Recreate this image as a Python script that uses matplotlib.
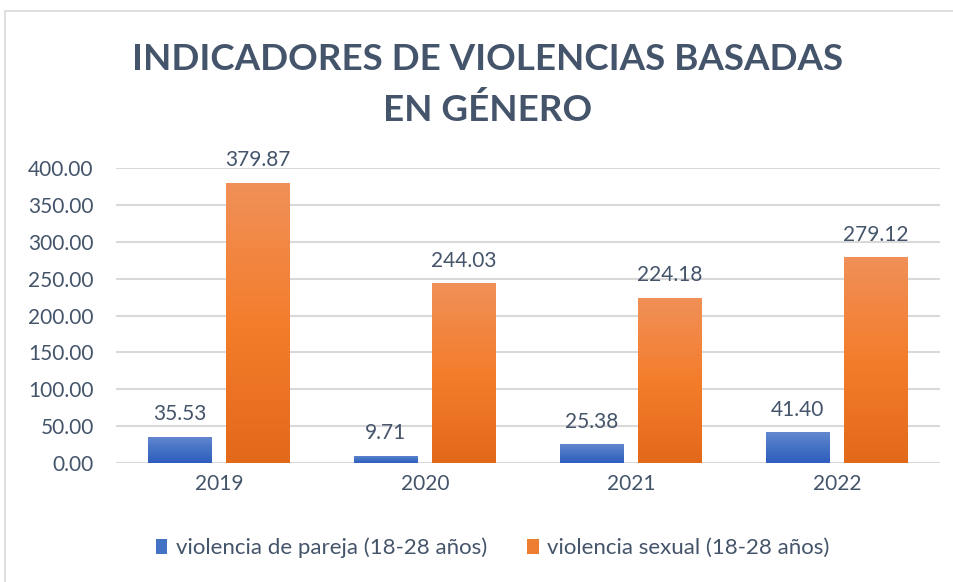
import matplotlib
matplotlib.use("Agg")
import matplotlib.pyplot as plt
import numpy as np
from matplotlib.patches import Rectangle, Patch
from matplotlib.colors import LinearSegmentedColormap

years = ["2019", "2020", "2021", "2022"]
pareja = [35.53, 9.71, 25.38, 41.40]
sexual = [379.87, 244.03, 224.18, 279.12]
series_names = ["violencia de pareja (18-28 años)", "violencia sexual (18-28 años)"]
yticks = [0, 50, 100, 150, 200, 250, 300, 350, 400]

TXT = "#44546A"
FONT = "Lato"

fig = plt.figure(figsize=(9.54, 5.82), dpi=100)
fig.patch.set_facecolor("white")
# chart border
fig.patches.append(Rectangle((5/954, -0.05), 1.2, 1 - 11/582 + 0.05, transform=fig.transFigure,
                             fill=False, edgecolor="#D9D9D9", linewidth=1.2))

ax = fig.add_axes([116/954, 1 - 463/582, (940 - 116)/954, (463 - 168)/582])

blue_cmap = LinearSegmentedColormap.from_list("b", ["#2E5EBF", "#4472C4", "#6488D0"])
orange_cmap = LinearSegmentedColormap.from_list("o", ["#E2691A", "#F47D2C", "#F09058"])

x = np.arange(len(years))
w = 0.31
off = 0.19
grad = np.linspace(0, 1, 256).reshape(-1, 1)

def gbar(xs, vals, cmap):
    bars = ax.bar(xs, vals, width=w, color="none", edgecolor="none", zorder=3)
    for b in bars:
        im = ax.imshow(grad, cmap=cmap, origin="lower", aspect="auto",
                       extent=(b.get_x(), b.get_x() + b.get_width(), 0, b.get_height()),
                       zorder=3)
        im.set_clip_path(b)
    return bars

gbar(x - off, pareja, blue_cmap)
gbar(x + off, sexual, orange_cmap)
ax.set_xlim(-0.5, 3.5)
ax.set_ylim(0, 400)

for xs, vals in ((x - off, pareja), (x + off, sexual)):
    for xi, v in zip(xs, vals):
        ax.annotate(f"{v:.2f}", (xi, v), xytext=(0, 9), textcoords="offset points",
                    ha="center", va="bottom", fontsize=15, color=TXT, family=FONT)

ax.set_yticks(yticks)
ax.set_yticklabels([f"{t:.2f}" for t in yticks], fontsize=15, color=TXT, family=FONT)
ax.set_xticks(x)
ax.set_xticklabels(years, fontsize=15, color=TXT, family=FONT)
ax.tick_params(length=0, pad=8)
ax.tick_params(axis="y", pad=16)
ax.grid(axis="y", color="#D9D9D9", linewidth=1.5, zorder=0)
ax.set_axisbelow(True)
for s in ax.spines.values():
    s.set_visible(False)

fig.text(488/954, 1 - 60/582, "INDICADORES DE VIOLENCIAS BASADAS", ha="center", va="center",
         fontsize=26.5, fontweight="bold", color=TXT, family=FONT)
fig.text(488/954, 1 - 110/582, "EN GÉNERO", ha="center", va="center",
         fontsize=26.5, fontweight="bold", color=TXT, family=FONT)

handles = [Patch(facecolor="#4472C4"), Patch(facecolor="#ED7D31")]
fig.legend(handles, series_names, loc="center", bbox_to_anchor=(493/954, 1 - 548/582), ncol=2,
           frameon=False, prop={"family": FONT, "size": 16}, labelcolor=TXT,
           handlelength=0.5, handleheight=0.7, handletextpad=0.4, columnspacing=1.8)

fig.savefig("out.png", dpi=100)
